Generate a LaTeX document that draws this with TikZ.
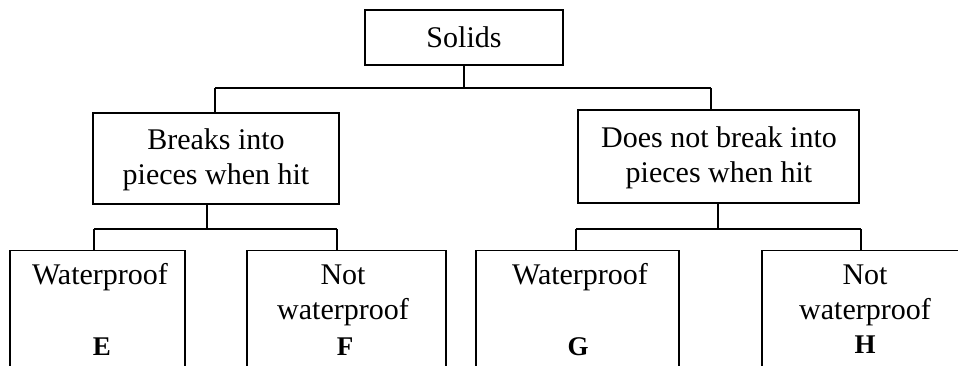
\documentclass[tikz,border=0pt]{standalone}
\usepackage{fontspec}
\setmainfont{Liberation Serif}
\begin{document}
\begin{tikzpicture}[x=1pt,y=-1pt,
  box/.style={draw,line width=1.1pt,rectangle,inner sep=0pt},
  conn/.style={line width=1.1pt},
  txt/.style={inner sep=0pt,font=\fontsize{30}{35}\selectfont,align=center},
  lett/.style={inner sep=0pt,font=\fontsize{27}{32}\selectfont\bfseries}]
\useasboundingbox (0,0) rectangle (958,365);
\clip (0,0) rectangle (958,365);
% boxes
\node[box,minimum width=198pt,minimum height=55pt] (solids) at (464,37.5) {};
\node[box,minimum width=246pt,minimum height=91pt] (breaks) at (216,158.5) {};
\node[box,minimum width=281pt,minimum height=93pt] (does) at (718.5,156.5) {};
\node[box,minimum width=175pt,minimum height=150pt,anchor=north] (e) at (97.5,250) {};
\node[box,minimum width=199pt,minimum height=150pt,anchor=north] (f) at (346.5,250) {};
\node[box,minimum width=203pt,minimum height=150pt,anchor=north] (g) at (577.5,250) {};
\node[box,minimum width=238pt,minimum height=150pt,anchor=north] (h) at (881,250) {};
% texts
\node[txt] (tsolids) at (464,37) {Solids};
\node[txt] (tbreaks) at (216,160) {Breaks into\\pieces when hit};
\node[txt] (tdoes) at (719,158) {Does not break into\\pieces when hit};
\node[txt] (te) at (100,277) {Waterproof};
\node[lett] (le) at (102,347) {E};
\node[txt] (tf) at (343,295) {Not\\waterproof};
\node[lett] (lf) at (345,347) {F};
\node[txt] (tg) at (580,277) {Waterproof};
\node[lett] (lg) at (578,347) {G};
\node[txt] (th) at (865,295) {Not\\waterproof};
\node[lett] (lh) at (865,345) {H};
% connectors level 1
\coordinate (j0) at (464,88);
\coordinate (jL) at (215,88);
\coordinate (jR) at (711,88);
\draw[conn] (solids.south) -- (j0);
\draw[conn] (jL) -- (jR);
\draw[conn] (jL) -- (jL |- breaks.north);
\draw[conn] (jR) -- (jR |- does.north);
% connectors level 2 left
\coordinate (b0) at (207,229);
\coordinate (bL) at (94,229);
\coordinate (bR) at (337,229);
\draw[conn] (b0 |- breaks.south) -- (b0);
\draw[conn] (bL) -- (bR);
\draw[conn] (bL) -- (bL |- e.north);
\draw[conn] (bR) -- (bR |- f.north);
% connectors level 2 right
\coordinate (d0) at (718,229);
\coordinate (dL) at (576,229);
\coordinate (dR) at (861,229);
\draw[conn] (d0 |- does.south) -- (d0);
\draw[conn] (dL) -- (dR);
\draw[conn] (dL) -- (dL |- g.north);
\draw[conn] (dR) -- (dR |- h.north);
\end{tikzpicture}
\end{document}
